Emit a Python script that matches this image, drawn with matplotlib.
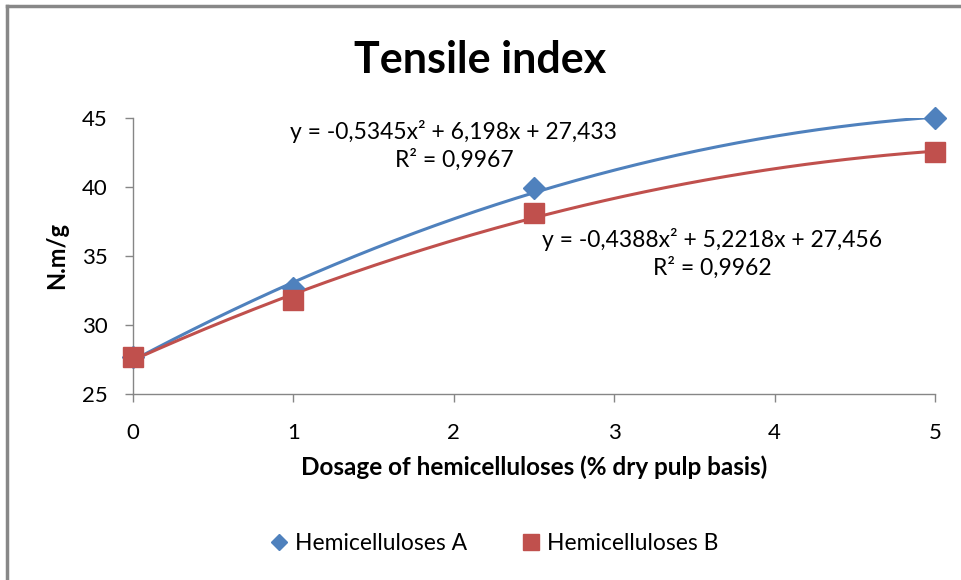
"""Tensile index vs. hemicellulose dosage, with polynomial trendlines."""
import matplotlib.pyplot as plt
import numpy as np
from matplotlib.lines import Line2D

plt.rcParams["font.family"] = ["Lato", "DejaVu Sans"]

# measured points
dosage = [0, 1, 2.5, 5]
tensile_a = [27.7, 32.7, 39.9, 45.0]
tensile_b = [27.7, 31.8, 38.1, 42.5]

# trendline coefficients as shown on the chart (x^2, x, const)
fit_a = [-0.5345, 6.198, 27.433]
fit_b = [-0.4388, 5.2218, 27.456]
eq_a = ["y = -0,5345x² + 6,198x + 27,433", "R² = 0,9967"]
eq_b = ["y = -0,4388x² + 5,2218x + 27,456", "R² = 0,9962"]

x_ticks = [0, 1, 2, 3, 4, 5]
y_ticks = [25, 30, 35, 40, 45]

blue = "#4F81BD"
red = "#C0504D"
axis_grey = "#868686"

fig = plt.figure(figsize=(9.61, 5.8), dpi=100)
ax = fig.add_axes([0.1384, 0.3207, 0.8346, 0.4759])

xs = np.linspace(0, 5, 200)
ax.plot(xs, np.polyval(fit_a, xs), color=blue, lw=2.2, zorder=2)
ax.plot(xs, np.polyval(fit_b, xs), color=red, lw=2.2, zorder=2)
ax.plot(dosage, tensile_a, ls="none", marker="D", ms=11.5, color=blue,
        label="Hemicelluloses A", zorder=3, clip_on=False)
ax.plot(dosage, tensile_b, ls="none", marker="s", ms=15, color=red,
        label="Hemicelluloses B", zorder=4, clip_on=False)

ax.set_xlim(0, 5)
ax.set_ylim(25, 45)
ax.set_xticks(x_ticks)
ax.set_yticks(y_ticks)
ax.tick_params(colors=axis_grey, labelcolor="#000000", labelsize=16,
               length=6, width=1, direction="out")
ax.tick_params(axis="x", pad=15)
ax.tick_params(axis="y", pad=12)
for side in ("top", "right"):
    ax.spines[side].set_visible(False)
for side in ("left", "bottom"):
    ax.spines[side].set_color(axis_grey)
    ax.spines[side].set_linewidth(1)

ax.set_xlabel("Dosage of hemicelluloses (% dry pulp basis)", fontsize=17.5,
              fontweight="bold", labelpad=9)
ax.set_ylabel("N.m/g", fontsize=17, fontweight="bold", labelpad=10)

fig.text(0.5 + 0.0, 1 - 73 / 580, "Tensile index", fontsize=31, fontweight="bold",
         ha="center", va="baseline")

ax.text(2.0, 43.0, "\n".join(eq_a), fontsize=16.5, ha="center", va="center",
        multialignment="center", linespacing=1.3)
ax.text(3.61, 35.2, "\n".join(eq_b), fontsize=16.5, ha="center", va="center",
        multialignment="center", linespacing=1.3)

fig.legend(loc="center", bbox_to_anchor=(0.514, 1 - 544 / 580), ncol=2,
           frameon=False, fontsize=16.5, handlelength=0.8, handletextpad=0.3,
           columnspacing=2.4, markerscale=0.75)

# chart border (top and left edges visible)
fig.add_artist(Line2D([7 / 961, 7 / 961], [0, 1 - 6 / 580], transform=fig.transFigure,
                      color="#888888", lw=2.5))
fig.add_artist(Line2D([7 / 961, 1], [1 - 6 / 580, 1 - 6 / 580], transform=fig.transFigure,
                      color="#888888", lw=2.5))

fig.savefig("out.png", dpi=100)
